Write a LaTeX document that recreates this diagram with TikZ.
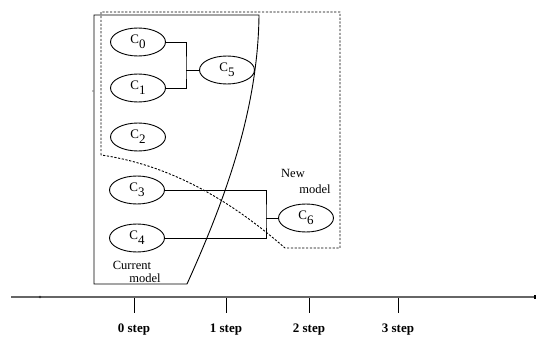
\documentclass[tikz,border=0pt]{standalone}
\usepackage{fontspec}
\setmainfont{Liberation Serif}
\usepackage{tikz}
\usetikzlibrary{shapes.geometric}

\newcommand{\cls}[1]{C\raisebox{-5pt}{#1}}

\begin{document}
\begin{tikzpicture}[x=1pt,y=-1pt, line width=0.9pt,
  cnode/.style={draw, ellipse, minimum width=55pt, minimum height=28pt, inner sep=0pt, font=\fontsize{13}{13}\selectfont},
  lbl/.style={font=\fontsize{12.5}{13}\selectfont, inner sep=0pt},
  steplbl/.style={font=\fontsize{13}{13}\selectfont\bfseries, inner sep=0pt}]
  \useasboundingbox (0,0) rectangle (536,337);

  % current model
  \draw (94,15) -- (259,15) .. controls (258,110) and (225,200) .. (187,284) -- (94,284) -- cycle;
  % new model
  \draw[dash pattern=on 2.2pt off 1.6pt] (101,155) -- (101,12) -- (340,12) -- (340,248) -- (285,248)
    .. controls (230,200) and (170,165) .. (101,155);
  \fill[gray] (93,91) circle (0.8);

  \node[cnode] (c0) at (138,42) {\cls{0}};
  \node[cnode] (c1) at (138,88) {\cls{1}};
  \node[cnode] (c2) at (138,137) {\cls{2}};
  \node[cnode] (c3) at (137,190) {\cls{3}};
  \node[cnode] (c4) at (137,238) {\cls{4}};
  \node[cnode] (c5) at (227,70) {\cls{5}};
  \node[cnode] (c6) at (306,218) {\cls{6}};

  \coordinate (j5) at (186,70);
  \coordinate (j6) at (266,218);
  \draw (c0.east) -| (j5) |- (c1.east);
  \draw (j5) -- (c5);
  \draw (c3.east) -| (j6) |- (c4.east);
  \draw (j6) -- (c6);

  \node[lbl] (cur) at (132,265) {Current};
  \node[lbl] (curm) at (145,278) {model};
  \node[lbl] (new) at (293,173) {New};
  \node[lbl] (newm) at (315,189) {model};

  % time axis
  \coordinate (a0) at (11,297);
  \coordinate (a1) at (536,297);
  \draw[gray!80!black, line width=1.4pt] (a0) -- (a1);
  \fill[black!80] (40,297) circle (1.3);
  \fill[black] (533.5,295) rectangle (536,299);
  \foreach \x/\n in {134/0,226/1,309/2,398/3}{
    \draw (\x,298) -- (\x,313);
    \node[steplbl] (s\n) at (\x,330) {\n\ step};
  }
\end{tikzpicture}
\end{document}
